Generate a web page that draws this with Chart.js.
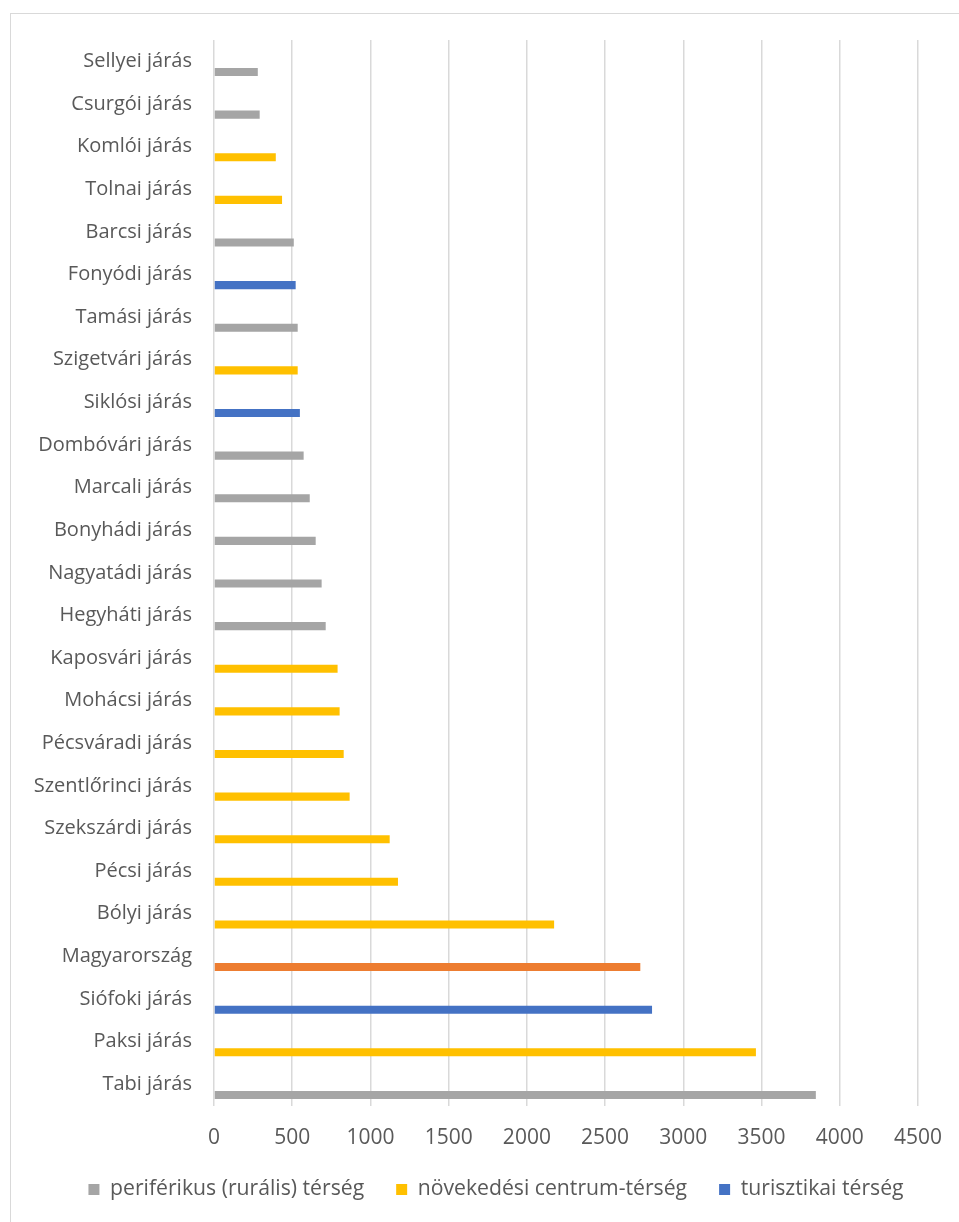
<!DOCTYPE html>
<html>
<head>
<meta charset="utf-8">
<script src="https://cdn.jsdelivr.net/npm/chart.js@4.4.1/dist/chart.umd.min.js"></script>
<style>
html,body{margin:0;padding:0;background:#fff;overflow:hidden;}
#frame{position:absolute;left:10px;top:13px;width:1000px;height:1300px;border:1px solid #d9d9d9;box-sizing:border-box;}
#wrap{position:absolute;left:0;top:0;width:959px;height:1222px;}
</style>
</head>
<body>
<div id="frame"></div>
<div id="wrap"><canvas id="chart"></canvas></div>
<script>
// categories, top to bottom as drawn
const districts=["Sellyei járás","Csurgói járás","Komlói járás","Tolnai járás","Barcsi járás","Fonyódi járás","Tamási járás","Szigetvári járás","Siklósi járás","Dombóvári járás","Marcali járás","Bonyhádi járás","Nagyatádi járás","Hegyháti járás","Kaposvári járás","Mohácsi járás","Pécsváradi járás","Szentlőrinci járás","Szekszárdi járás","Pécsi járás","Bólyi járás","Magyarország","Siófoki járás","Paksi járás","Tabi járás"];
const values=[280,292,395,435,510,522,535,535,549,573,612,650,688,714,790,803,829,867,1123,1176,2174,2725,2800,3464,3847];
// p = periférikus, n = növekedési centrum, t = turisztikai, hu = országos érték
const groups=["p","p","n","n","p","t","p","n","t","p","p","p","p","p","n","n","n","n","n","n","n","hu","t","n","p"];
const xTicks=[0,500,1000,1500,2000,2500,3000,3500,4000,4500];

const groupColors={p:"#a5a5a5",n:"#ffc000",t:"#4472c4",hu:"#ed7d31"};
const legendKeys=["p","n","t"];
const legendNames=["periférikus (rurális) térség","növekedési centrum-térség","turisztikai térség"];

const font="'Open Sans', sans-serif";
const txt="#595959";

// the source sheet had an empty first series, which pushes the bars below the labels
const spacer=districts.map(()=>null);

// legend sits a bit right of the canvas centre in the original
const legendShift={id:"legendShift",afterLayout(chart){chart.legend.left+=37;chart.legend.right+=37;}};

new Chart(document.getElementById("chart"),{
  type:"bar",
  data:{labels:districts,datasets:[
    {data:spacer},
    {data:values,backgroundColor:groups.map(g=>groupColors[g]),borderWidth:0}
  ]},
  options:{
    indexAxis:"y",
    responsive:true,maintainAspectRatio:false,animation:false,
    datasets:{bar:{categoryPercentage:1,barPercentage:0.38}},
    layout:{padding:{top:40,right:41,left:0,bottom:12}},
    scales:{
      x:{min:0,max:4500,
        afterBuildTicks:s=>{s.ticks=xTicks.map(v=>({value:v}));},
        afterFit:s=>{s.height-=24;s.paddingRight=0;s.paddingLeft=0;},
        grid:{color:"#d9d9d9",lineWidth:1.5,drawTicks:false},
        border:{display:false},
        ticks:{color:txt,font:{family:font,size:21},padding:20,callback:v=>String(v)}},
      y:{
        afterFit:s=>{s.width=214;},
        grid:{display:false,drawTicks:false},
        border:{display:false},
        ticks:{color:txt,font:{family:font,size:20},padding:22,autoSkip:false}}
    },
    plugins:{
      tooltip:{enabled:false},
      legend:{position:"bottom",
        labels:{color:txt,font:{family:font,size:21.2},boxWidth:11,boxHeight:11,padding:32,
          generateLabels:()=>legendKeys.map((k,i)=>({text:legendNames[i],fillStyle:groupColors[k],strokeStyle:groupColors[k],lineWidth:0,fontColor:txt,hidden:false}))},
        onClick:null}
    }
  },
  plugins:[legendShift]
});
</script>
</body>
</html>
